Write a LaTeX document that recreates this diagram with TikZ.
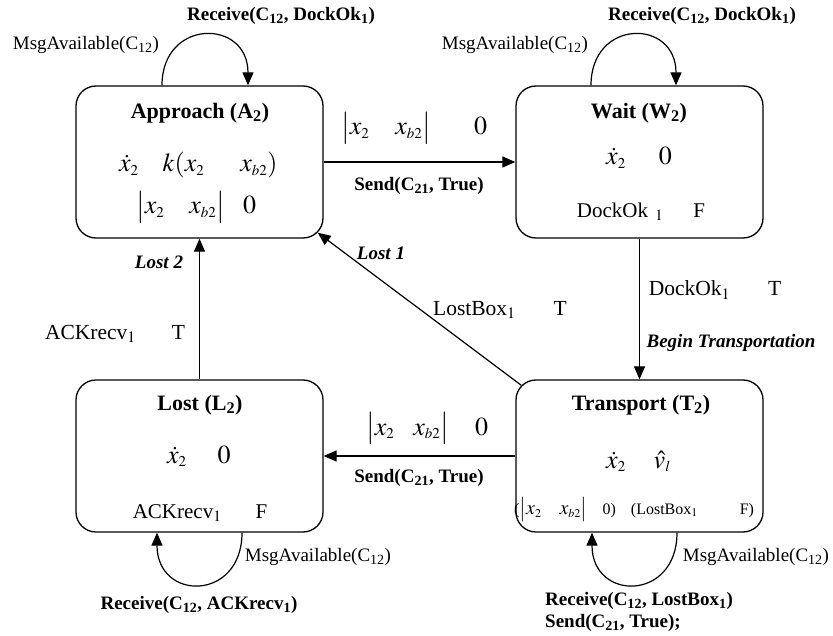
\documentclass[tikz,border=0pt]{standalone}
\usepackage{mathptmx}
\usepackage{fontspec}
\setmainfont{Liberation Serif}
\usetikzlibrary{arrows.meta}
% smaller scripts for the flow formulas
\DeclareMathSizes{26}{26}{15}{11}
\DeclareMathSizes{20}{20}{12}{9}

\tikzset{
  state/.style={draw, line width=1.3pt, rounded corners=20pt,
    minimum width=247pt, minimum height=152pt, inner sep=0pt},
  arr/.style={line width=1.2pt, -{Triangle[length=13pt,width=11pt]}},
  msg/.style={inner sep=0pt, font=\fontsize{19}{22}\selectfont},
  guard/.style={inner sep=0pt, font=\fontsize{21.5}{25}\selectfont},
  act/.style={inner sep=0pt, font=\fontsize{19}{22}\selectfont\bfseries},
  evt/.style={inner sep=0pt, font=\fontsize{19}{22}\selectfont\bfseries\itshape},
  title/.style={inner sep=0pt, font=\fontsize{22}{26}\selectfont\bfseries},
  cond/.style={inner sep=0pt, font=\fontsize{21}{25}\selectfont},
  flow/.style={inner sep=0pt, anchor=base west, font=\fontsize{26}{30}\selectfont},
  small/.style={inner sep=0pt, anchor=base west, font=\fontsize{16}{19}\selectfont},
}

\begin{document}
\begin{tikzpicture}[x=1pt,y=-1pt]
\useasboundingbox (0,0) rectangle (833,636);

% locations
\node[state] (A) at (199.5,162) {};
\node[state] (W) at (639.5,162) {};
\node[state] (L) at (199.5,456) {};
\node[state] (T) at (639.5,456) {};

% Approach
\node[title] (At) at (200,113) {Approach (A\textsubscript{2})};
\node[flow] (Af) at (119,172) {$\dot{x}_2\hspace{24pt}k(x_2\hspace{36pt}x_{b2})$};
\node[flow] (Ai) at (136,214) {$\bigl|x_2\hspace{25pt}x_{b2}\bigr|\hspace{18pt}0$};

% Wait
\node[title] (Wt) at (639,113) {Wait (W\textsubscript{2})};
\node[flow] (Wf) at (606,165) {$\dot{x}_2\hspace{33pt}0$};
\node[cond] (Wi) at (641,212) {DockOk\hspace{7pt}$_1$\hspace{30pt}F};

% Lost
\node[title] (Lt) at (200,405) {Lost (L\textsubscript{2})};
\node[flow] (Lf) at (167,463) {$\dot{x}_2\hspace{31pt}0$};
\node[cond] (Li) at (200,513) {ACKrecv$_1$\hspace{34pt}F};

% Transport
\node[title] (Tt) at (641,405) {Transport (T\textsubscript{2})};
\node[flow] (Tf) at (606,468) {$\dot{x}_2\hspace{28pt}\hat{v}_l$};
\node[small] (Ti) at (514,514) {({\fontsize{20}{24}\selectfont$\bigl|x_2\hspace{18pt}x_{b2}\bigr|$}\hspace{15pt}0)\hspace{15pt}(LostBox$_1$\hspace{42pt}F)};

% transitions
\draw[arr] (A.east) -- (W.west);
\draw[arr] (W.south) -- (T.north);
\draw[arr] (L.north) -- (A.south);
\draw[arr] (T.west) -- (L.east);
\draw[arr] ([shift={(6,6)}]T.north west) -- ([shift={(-6,-6)}]A.south east);

% self loops
\draw[arr] ([xshift=-37.5pt]A.north) .. controls +(0,-67) and +(0,-67) .. ([xshift=48.5pt]A.north);
\draw[arr] ([xshift=-48.5pt]W.north) .. controls +(0,-67) and +(0,-67) .. ([xshift=36.5pt]W.north);
\draw[arr] ([xshift=42.5pt]L.south) .. controls +(0,69) and +(0,69) .. ([xshift=-42.5pt]L.south);
\draw[arr] ([xshift=37.5pt]T.south) .. controls +(0,69) and +(0,69) .. ([xshift=-47.5pt]T.south);

% loop labels
\node[act] (rA) at (281,16) {Receive(C\textsubscript{12}, DockOk\textsubscript{1})};
\node[msg] (mA) at (86,45) {MsgAvailable(C\textsubscript{12})};
\node[act] (rW) at (702,16) {Receive(C\textsubscript{12}, DockOk\textsubscript{1})};
\node[msg] (mW) at (515,45) {MsgAvailable(C\textsubscript{12})};
\node[msg] (mL) at (318,557) {MsgAvailable(C\textsubscript{12})};
\node[act] (rL) at (199,605) {Receive(C\textsubscript{12}, ACKrecv\textsubscript{1})};
\node[msg] (mT) at (756,557) {MsgAvailable(C\textsubscript{12})};
\node[act, align=left, anchor=west] (rT) at (545,612) {Receive(C\textsubscript{12}, LostBox\textsubscript{1})\\Send(C\textsubscript{21}, True);};

% transition labels
\node[flow] (gAW) at (341,135) {$\bigl|x_2\hspace{26pt}x_{b2}\bigr|\hspace{43pt}0$};
\node[act] (sAW) at (419,186) {Send(C\textsubscript{21}, True)};
\node[guard] (gWT) at (715,290) {DockOk$_1$\hspace{38pt}T};
\node[evt] (eWT) at (731,343) {Begin Transportation};
\node[evt] (eTA) at (381,253) {Lost 1};
\node[guard] (gTA) at (500,310) {LostBox$_1$\hspace{38pt}T};
\node[evt] (eLA) at (159,262) {Lost 2};
\node[guard] (gLA) at (115,334) {ACKrecv$_1$\hspace{36pt}T};
\node[flow] (gTL) at (366,435) {$\bigl|x_2\hspace{19pt}x_{b2}\bigr|\hspace{26pt}0$};
\node[act] (sTL) at (419,478) {Send(C\textsubscript{21}, True)};

\end{tikzpicture}
\end{document}
